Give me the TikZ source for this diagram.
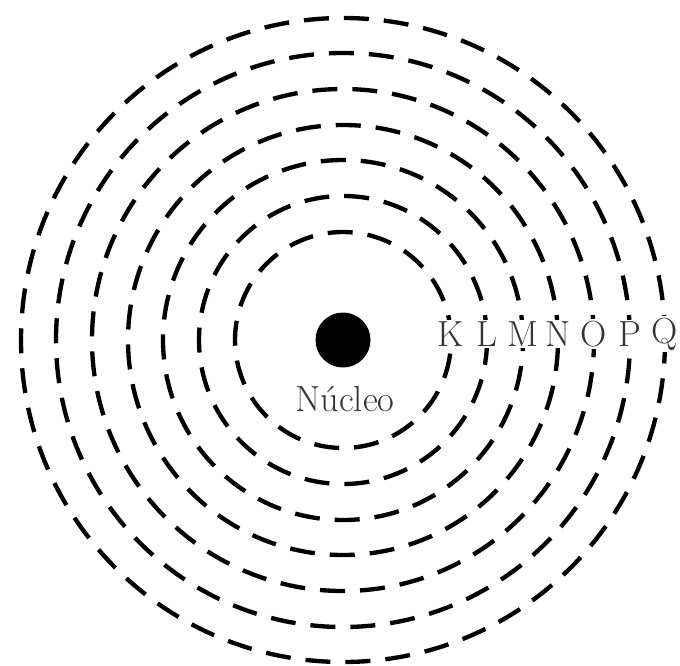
\documentclass[tikz,border=0pt]{standalone}
\usepackage{tikz}
\usetikzlibrary{positioning}

\begin{document}
\begin{tikzpicture}[x=0.3mm, y=0.3mm,
  shell/.style={line width=1.3mm, dash pattern=on 7.5mm off 4.5mm},
  shellname/.style={fill=white, inner sep=0.6mm, text=black!80,
    font=\fontsize{31}{37}\selectfont}]
  \useasboundingbox (-343,-325) rectangle (337,340);
  % nucleus
  \node[circle, fill=black, minimum size=16.5mm, inner sep=0] (nuc) at (0,0) {};
  % shells K..Q
  \foreach \r/\s in {108/K,144/L,180/M,215/N,251/O,287/P,322/Q} {
    \draw[shell] (nuc.center) circle (\r);
    \node[shellname] (\s) at (\r,6) {\s};
  }
  % label
  \node[text=black!80, font=\fontsize{31}{37}\selectfont, anchor=base]
    (nuclbl) at (2,-71) {Núcleo};
\end{tikzpicture}
\end{document}
